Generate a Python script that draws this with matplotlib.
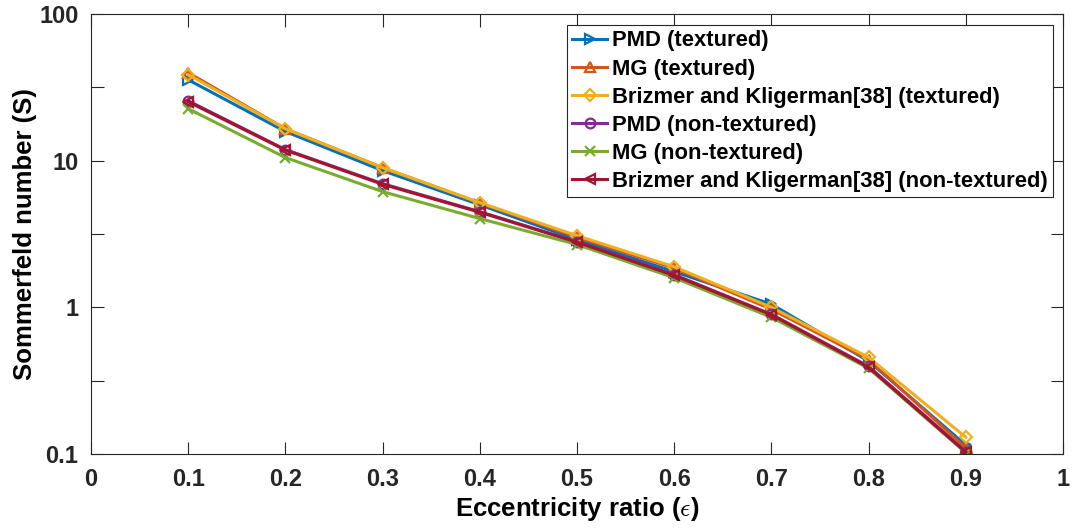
import matplotlib
matplotlib.use("Agg")
import matplotlib.pyplot as plt
import numpy as np
from matplotlib.ticker import FixedLocator, NullFormatter

ecc = [0.1, 0.2, 0.3, 0.4, 0.5, 0.6, 0.7, 0.8, 0.9]
pmd_tex = [35.6, 15.8, 8.55, 5.0, 2.89, 1.75, 1.05, 0.43, 0.115]
mg_tex = [39.8, 16.5, 8.96, 5.15, 3.0, 1.85, 0.97, 0.44, 0.11]
bk_tex = [38.6, 16.5, 8.96, 5.17, 3.08, 1.89, 1.0, 0.456, 0.130]
pmd_non = [25.6, 11.9, 6.97, 4.49, 2.80, 1.67, 0.896, 0.396, 0.104]
mg_non = [22.6, 10.5, 6.15, 4.03, 2.68, 1.59, 0.855, 0.384, 0.102]
bk_non = [25.2, 11.8, 6.9, 4.45, 2.78, 1.65, 0.89, 0.39, 0.103]

labels = ["PMD (textured)", "MG (textured)", "Brizmer and Kligerman[38] (textured)",
          "PMD (non-textured)", "MG (non-textured)", "Brizmer and Kligerman[38] (non-textured)"]
series = [pmd_tex, mg_tex, bk_tex, pmd_non, mg_non, bk_non]
colors = ["#0072BD", "#D95319", "#EDB120", "#7E2F8E", "#77AC30", "#A2142F"]
markers = [">", "^", "D", "o", "x", "<"]
msizes = [7, 7, 6, 7, 7, 7]

xticks = [0, 0.1, 0.2, 0.3, 0.4, 0.5, 0.6, 0.7, 0.8, 0.9, 1]
xticklabels = ["0", "0.1", "0.2", "0.3", "0.4", "0.5", "0.6", "0.7", "0.8", "0.9", "1"]
yticks = [0.1, 1, 10, 100]
yticklabels = ["0.1", "1", "10", "100"]

plt.rcParams['font.family'] = ['Liberation Sans', 'DejaVu Sans']
plt.rcParams['font.weight'] = 'bold'
plt.rcParams['mathtext.fontset'] = 'cm'

fig = plt.figure(figsize=(10.73, 5.31), dpi=100)
ax = fig.add_axes([91/1073, 1 - 454/531, (1063-91)/1073, (454-14)/531])

for y, lab, c, m, ms in zip(series, labels, colors, markers, msizes):
    ax.plot(ecc, y, color=c, marker=m, markersize=ms, markerfacecolor='none',
            markeredgecolor=c, markeredgewidth=1.6, linewidth=2.2, label=lab)

ax.set_yscale('log')
ax.set_xlim(0, 1)
ax.set_ylim(0.1, 100)
ax.set_xticks(xticks)
ax.set_xticklabels(xticklabels)
ax.yaxis.set_major_locator(FixedLocator(yticks))
ax.set_yticklabels(yticklabels)
ax.yaxis.set_minor_locator(FixedLocator([10**-0.5, 10**0.5, 10**1.5]))
ax.yaxis.set_minor_formatter(NullFormatter())

ax.tick_params(axis='both', which='both', direction='in', length=9, width=0.8,
               colors='#262626', labelsize=17, top=True, right=True)
ax.tick_params(axis='x', pad=10)
ax.tick_params(axis='y', pad=9)
for sp in ax.spines.values():
    sp.set_color('#262626')
    sp.set_linewidth(0.8)
for t in ax.get_xticklabels() + ax.get_yticklabels():
    t.set_fontweight('bold')
    t.set_color('#262626')

ax.set_xlabel(r"Eccentricity ratio ($\epsilon$)", fontsize=18.5, fontweight='bold', labelpad=3)
ax.set_ylabel("Sommerfeld number (S)", fontsize=18.5, fontweight='bold', labelpad=1.5)

leg = ax.legend(loc='upper right', bbox_to_anchor=(1053/1073, 1 - 25/531),
                bbox_transform=fig.transFigure, fontsize=15.8, frameon=True,
                fancybox=False, edgecolor='#262626', framealpha=1,
                handlelength=1.6, handletextpad=0.2, borderpad=0.25,
                labelspacing=0.32, borderaxespad=0)
leg.get_frame().set_linewidth(0.8)
for t in leg.get_texts():
    t.set_fontweight('bold')

fig.savefig("out.png", dpi=100)
